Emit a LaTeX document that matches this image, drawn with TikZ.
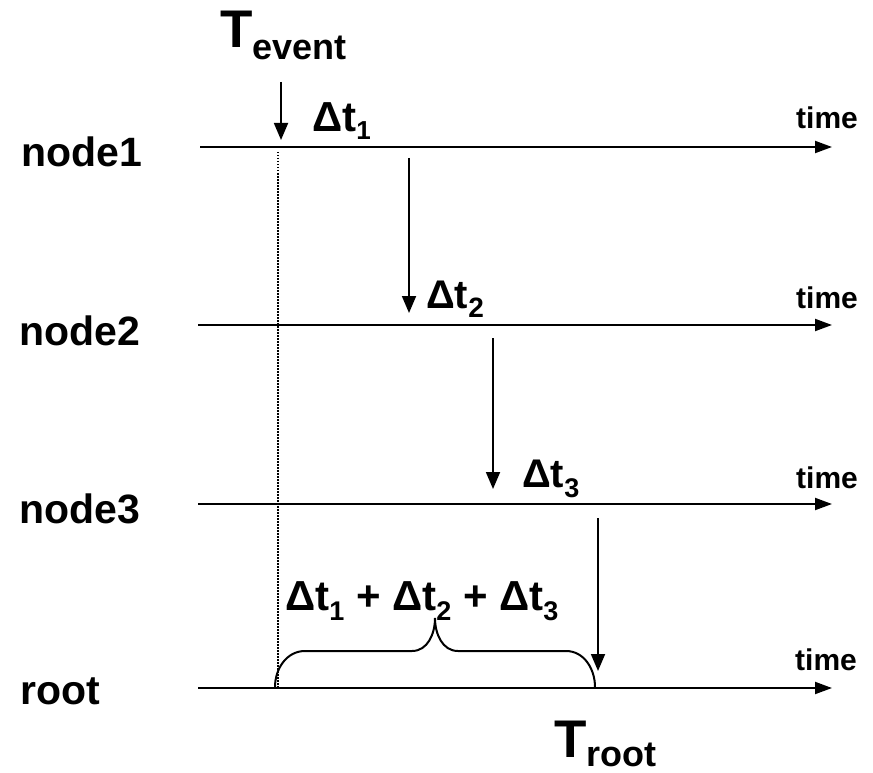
\documentclass[tikz,border=0pt]{standalone}
\usepackage{fontspec}
\setmainfont{Liberation Sans}
\usetikzlibrary{arrows.meta}
\newcommand{\fs}[1]{\fontsize{#1}{#1}\selectfont}
\newcommand{\lowsub}[3]{\raisebox{-#1pt}{\fs{#2}#3}}
\begin{document}
\begin{tikzpicture}[x=1pt,y=-1pt,
  lbl/.style={inner sep=0pt, anchor=base west, font=\bfseries\fs{41}},
  timelbl/.style={inner sep=0pt, anchor=base west, font=\bfseries\fs{30}},
  txt/.style={inner sep=0pt, anchor=base west, font=\bfseries},
  axis/.style={line width=2pt, -{Triangle[length=17pt,width=12pt]}},
  drop/.style={line width=1.8pt, -{Triangle[length=17pt,width=14pt]}},
  dots/.style={line width=1.5pt, dash pattern=on 1.5pt off 1.5pt},
  bracestyle/.style={line width=2pt}]
\useasboundingbox (0,0) rectangle (873,773);
% timelines
\coordinate (s1) at (200,147); \coordinate (e1) at (832,147);
\coordinate (s2) at (198,325); \coordinate (e2) at (832,325);
\coordinate (s3) at (198,504); \coordinate (e3) at (832,504);
\coordinate (s4) at (198,688); \coordinate (e4) at (832,688);
\draw[axis] (s1) -- (e1);
\draw[axis] (s2) -- (e2);
\draw[axis] (s3) -- (e3);
\draw[axis] (s4) -- (e4);
% row labels
\node[lbl] (n1) at (21,167) {node1};
\node[lbl] (n2) at (19,345) {node2};
\node[lbl] (n3) at (19,523) {node3};
\node[lbl] (rt) at (20,704) {root};
% time labels
\node[timelbl] (t1) at (796,129) {time};
\node[timelbl] (t2) at (796,308) {time};
\node[timelbl] (t3) at (796,488) {time};
\node[timelbl] (t4) at (795,670) {time};
% T event
\node[txt, font=\bfseries\fs{53}] (tev) at (220,48) {T\lowsub{12}{36}{event}};
\coordinate (a0s) at (281,82); \coordinate (a0e) at (281,140);
\draw[drop] (a0s) -- (a0e);
% dotted line
\coordinate (ds) at (278,152); \coordinate (de) at (278,687);
\draw[dots] (ds) -- (de);
% delta labels
\node[txt, font=\bfseries\fs{42}] (d1) at (312,132) {Δt\lowsub{8}{26}{1}};
\node[txt, font=\bfseries\fs{40}] (d2) at (426,308) {Δt\lowsub{9}{28}{2}};
\node[txt, font=\bfseries\fs{40}] (d3) at (522,487) {Δt\lowsub{10}{27}{3}};
% drop arrows
\coordinate (a1s) at (409,158); \coordinate (a1e) at (409,313);
\coordinate (a2s) at (493,338); \coordinate (a2e) at (493,489);
\coordinate (a3s) at (598,518); \coordinate (a3e) at (598,671);
\draw[drop] (a1s) -- (a1e);
\draw[drop] (a2s) -- (a2e);
\draw[drop] (a3s) -- (a3e);
% sum
\node[txt, font=\bfseries\fs{42}] (sum) at (285,610)
  {Δt\lowsub{10}{27}{1} + Δt\lowsub{10}{27}{2} + Δt\lowsub{10}{27}{3}};
% brace
\coordinate (bl) at (275,687); \coordinate (br) at (595,687);
\coordinate (btip) at (435,618);
\draw[bracestyle] (bl) to[out=90,in=180] (305,651) -- (412,651)
  to[out=0,in=-90] (btip) to[out=-90,in=180] (458,651) -- (566,651)
  to[out=0,in=90] (br);
% T root
\node[txt, font=\bfseries\fs{53}] (troot) at (554,757) {T\lowsub{9}{36}{root}};
\end{tikzpicture}
\end{document}
